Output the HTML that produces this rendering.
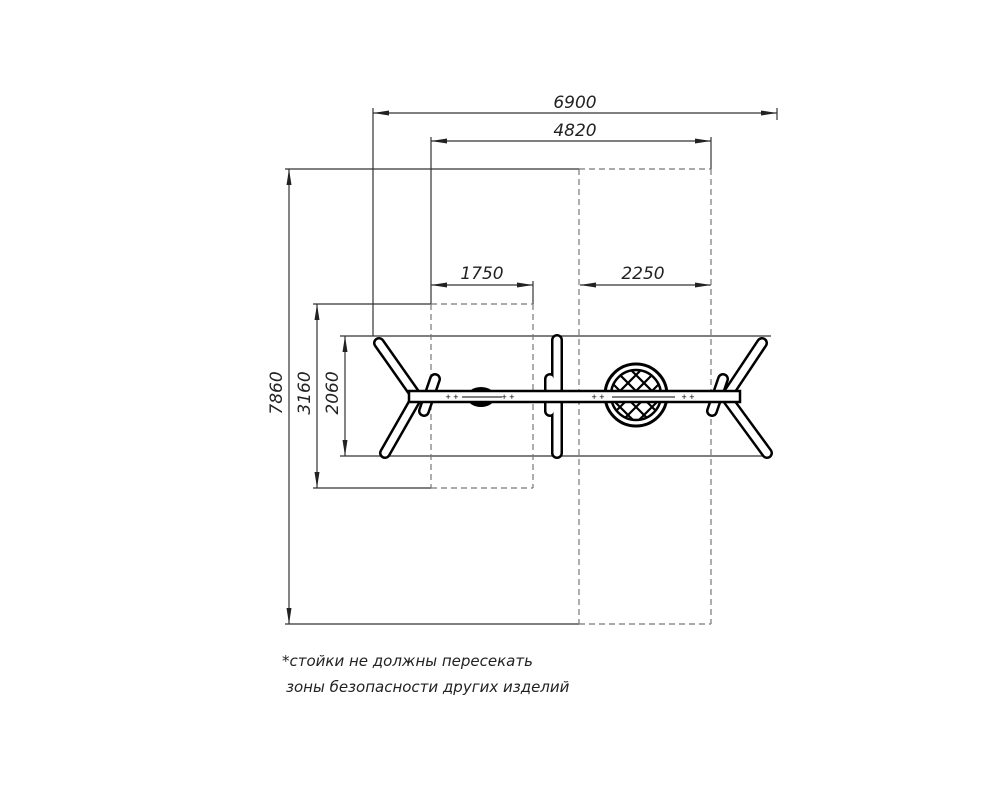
<!DOCTYPE html>
<html><head><meta charset="utf-8"><style>body{margin:0;background:#fff}svg{display:block}</style></head><body>
<svg width="1000" height="798" viewBox="0 0 1000 798" xmlns="http://www.w3.org/2000/svg">
<defs>
<marker id="a" viewBox="0 0 16 6" refX="16" refY="3" markerWidth="16" markerHeight="6" markerUnits="userSpaceOnUse" orient="auto"><path d="M0,0.5 L16,3 L0,5.5 Z" fill="#222"/></marker>
<marker id="b" viewBox="0 0 16 6" refX="0" refY="3" markerWidth="16" markerHeight="6" markerUnits="userSpaceOnUse" orient="auto"><path d="M16,0.5 L0,3 L16,5.5 Z" fill="#222"/></marker>
</defs>
<g stroke="#333" stroke-width="1.2" fill="none">
<line x1="373" y1="108" x2="373" y2="336"/>
<line x1="777" y1="108" x2="777" y2="120"/>
<line x1="431" y1="137" x2="431" y2="304"/>
<line x1="711" y1="137" x2="711" y2="169"/>
<line x1="533" y1="281" x2="533" y2="304"/>
<line x1="285" y1="169" x2="579" y2="169"/>
<line x1="285" y1="624" x2="579" y2="624"/>
<line x1="313" y1="304" x2="431" y2="304"/>
<line x1="313" y1="488" x2="431" y2="488"/>
<line x1="340" y1="336" x2="771" y2="336"/>
<line x1="340" y1="456" x2="771" y2="456"/>
<line x1="373" y1="113" x2="777" y2="113" marker-start="url(#b)" marker-end="url(#a)"/>
<line x1="431" y1="141" x2="711" y2="141" marker-start="url(#b)" marker-end="url(#a)"/>
<line x1="431" y1="285" x2="533" y2="285" marker-start="url(#b)" marker-end="url(#a)"/>
<line x1="580" y1="285" x2="711" y2="285" marker-start="url(#b)" marker-end="url(#a)"/>
<line x1="289" y1="169" x2="289" y2="624" marker-start="url(#b)" marker-end="url(#a)"/>
<line x1="317" y1="304" x2="317" y2="488" marker-start="url(#b)" marker-end="url(#a)"/>
<line x1="345" y1="336" x2="345" y2="456" marker-start="url(#b)" marker-end="url(#a)"/>
</g>
<g stroke="#777" stroke-width="1.2" fill="none" stroke-dasharray="6,4">
<line x1="579" y1="169" x2="711" y2="169"/>
<line x1="579" y1="169" x2="579" y2="624"/>
<line x1="711" y1="169" x2="711" y2="624"/>
<line x1="579" y1="624" x2="711" y2="624"/>
<line x1="431" y1="304" x2="533" y2="304"/>
<line x1="431" y1="304" x2="431" y2="488"/>
<line x1="533" y1="304" x2="533" y2="488"/>
<line x1="431" y1="488" x2="533" y2="488"/>
</g>
<g stroke-linecap="round">
<g stroke="#000" stroke-width="12">
<line x1="379" y1="343" x2="417" y2="397"/><line x1="417" y1="397" x2="385" y2="453"/>
<line x1="762" y1="343" x2="726" y2="397"/><line x1="726" y1="397" x2="767" y2="453"/>
<line x1="557" y1="340" x2="557" y2="453"/>
<line x1="435" y1="379" x2="424" y2="411"/>
<line x1="550" y1="379" x2="550" y2="411"/>
<line x1="723" y1="379" x2="712" y2="411"/>
</g>
<g stroke="#fff" stroke-width="7">
<line x1="379" y1="343" x2="417" y2="397"/><line x1="417" y1="397" x2="385" y2="453"/>
<line x1="762" y1="343" x2="726" y2="397"/><line x1="726" y1="397" x2="767" y2="453"/>
<line x1="557" y1="340" x2="557" y2="453"/>
<line x1="435" y1="379" x2="424" y2="411"/>
<line x1="550" y1="379" x2="550" y2="411"/>
<line x1="723" y1="379" x2="712" y2="411"/>
</g>
</g>
<circle cx="636" cy="395" r="31" fill="#fff" stroke="#000" stroke-width="3"/>
<circle cx="636" cy="395" r="25" fill="none" stroke="#000" stroke-width="2.5"/>
<clipPath id="c"><circle cx="636" cy="395" r="24"/></clipPath>
<g clip-path="url(#c)" stroke="#000" stroke-width="2.2">
<path d="M580 351 L680 451 M588 343 L688 443 M596 335 L696 435 M604 327 L704 427 M572 359 L672 459 M564 367 L664 467 M556 375 L656 475 M612 319 L712 419"/>
<path d="M692 351 L592 451 M684 343 L584 443 M676 335 L576 435 M668 327 L568 427 M700 359 L600 459 M708 367 L608 467 M716 375 L616 475 M660 319 L560 419"/>
</g>
<ellipse cx="481" cy="397" rx="14" ry="10" fill="#000"/>
<rect x="409" y="391" width="331" height="11" fill="#fff" stroke="#000" stroke-width="2.5"/>
<g stroke="#000" stroke-width="1">
<line x1="462" y1="397" x2="502" y2="397"/><line x1="612" y1="397" x2="675" y2="397"/>
</g>
<g font-family="Liberation Sans,sans-serif" font-size="9" fill="#000" text-anchor="middle">
<text x="452" y="400">+ +</text><text x="508" y="400">+ +</text>
<text x="598" y="400">+ +</text><text x="688" y="400">+ +</text>
</g>
<g font-family="DejaVu Sans,Liberation Sans,sans-serif" font-size="17" font-style="italic" fill="#222" text-anchor="middle">
<text x="575" y="108">6900</text>
<text x="575" y="136">4820</text>
<text x="482" y="279">1750</text>
<text x="643" y="279">2250</text>
<text transform="translate(282,393) rotate(-90)">7860</text>
<text transform="translate(310,393) rotate(-90)">3160</text>
<text transform="translate(338,393) rotate(-90)">2060</text>
</g>
<g font-family="DejaVu Sans,Liberation Sans,sans-serif" font-size="15" font-style="italic" fill="#222">
<text x="282" y="666">*стойки не должны пересекать</text>
<text x="286" y="692">зоны безопасности других изделий</text>
</g>
</svg>
</body></html>
